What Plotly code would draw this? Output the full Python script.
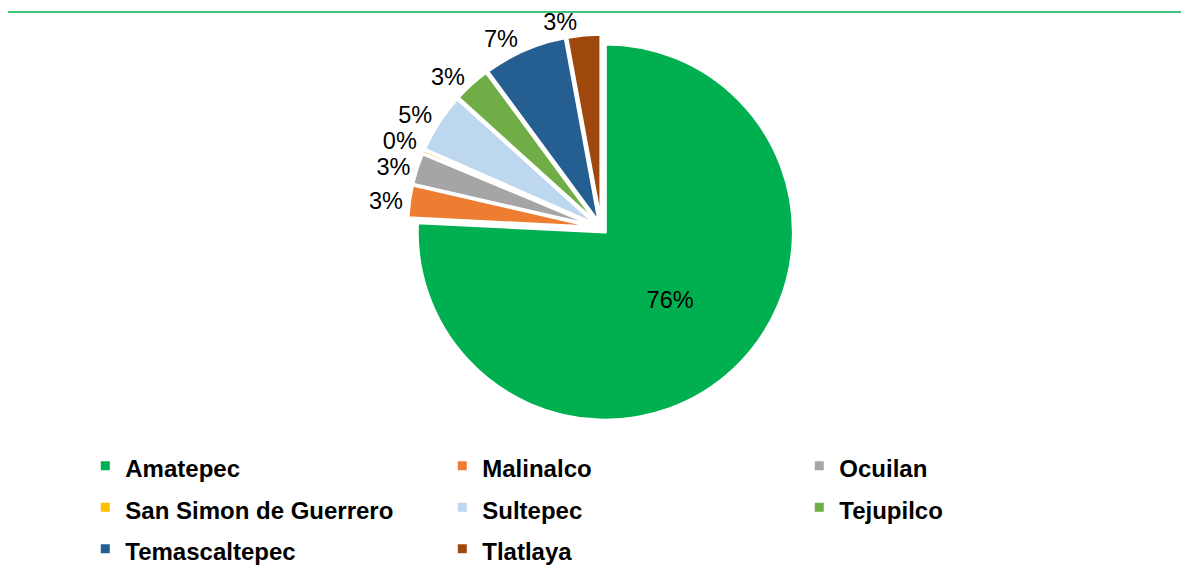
import plotly.graph_objects as go

municipios = ["Amatepec", "Malinalco", "Ocuilan", "San Simon de Guerrero",
              "Sultepec", "Tejupilco", "Temascaltepec", "Tlatlaya"]
porcentajes = [75.8, 2.8, 2.7, 0.3, 5.1, 3.2, 7.2, 2.9]
colores = ["#00B050", "#ED7D31", "#A5A5A5", "#FFC000",
           "#BDD7EE", "#70AD47", "#255E91", "#9E480E"]

font_family = "Arial, Liberation Sans, sans-serif"

# legend text at 24px while the legend row height comes from a larger font
etiquetas = ['<span style="font-size:24px">%s</span>' % m for m in municipios]

dominio = dict(x=[0.3361, 0.6621], y=[0.2867, 0.9547])
texto = dict(family=font_family, size=23.5, color="black")
n = len(municipios)

fig = go.Figure()

fig.add_trace(go.Pie(
    labels=etiquetas,
    values=porcentajes,
    marker=dict(colors=colores, line=dict(color="white", width=3)),
    sort=False,
    direction="clockwise",
    rotation=0,
    pull=0.03,
    texttemplate="%{percent:.0%}",
    textposition=["inside"] + ["outside"] * (n - 2) + ["none"],
    insidetextorientation="horizontal",
    textfont=texto,
    hovertemplate="%{label}: %{value}<extra></extra>",
    domain=dominio,
))

# same pie, transparent, only to carry the last label so plotly does not
# push it up against the neighbouring 7% label
fig.add_trace(go.Pie(
    labels=etiquetas,
    values=porcentajes,
    marker=dict(colors=["rgba(0,0,0,0)"] * n, line=dict(width=0)),
    sort=False,
    direction="clockwise",
    rotation=0,
    pull=0.03,
    texttemplate="%{percent:.0%}",
    textposition=["none"] * (n - 1) + ["outside"],
    textfont=texto,
    hoverinfo="skip",
    showlegend=False,
    domain=dominio,
))

fig.add_shape(type="line", xref="paper", yref="paper",
              x0=0, x1=0.99, y0=0.9931, y1=0.9931,
              line=dict(color="#00B050", width=1.5))

fig.update_layout(
    width=1189, height=580,
    margin=dict(l=0, r=0, t=0, b=0, autoexpand=False),
    paper_bgcolor="white",
    plot_bgcolor="white",
    showlegend=True,
    legend=dict(
        orientation="h",
        x=0.065, xanchor="left",
        y=0.2552, yanchor="top",
        entrywidth=312, entrywidthmode="pixels",
        font=dict(family=font_family, size=29.6, color="black", weight="bold"),
        traceorder="normal",
    ),
)

# the reference has no leader lines next to the outside labels
quitar_lineas = ("document.getElementById('{plot_id}').querySelectorAll('path.textline')"
                 ".forEach(function(e){e.remove();});")

fig.write_html("out.html", post_script=quitar_lineas)
